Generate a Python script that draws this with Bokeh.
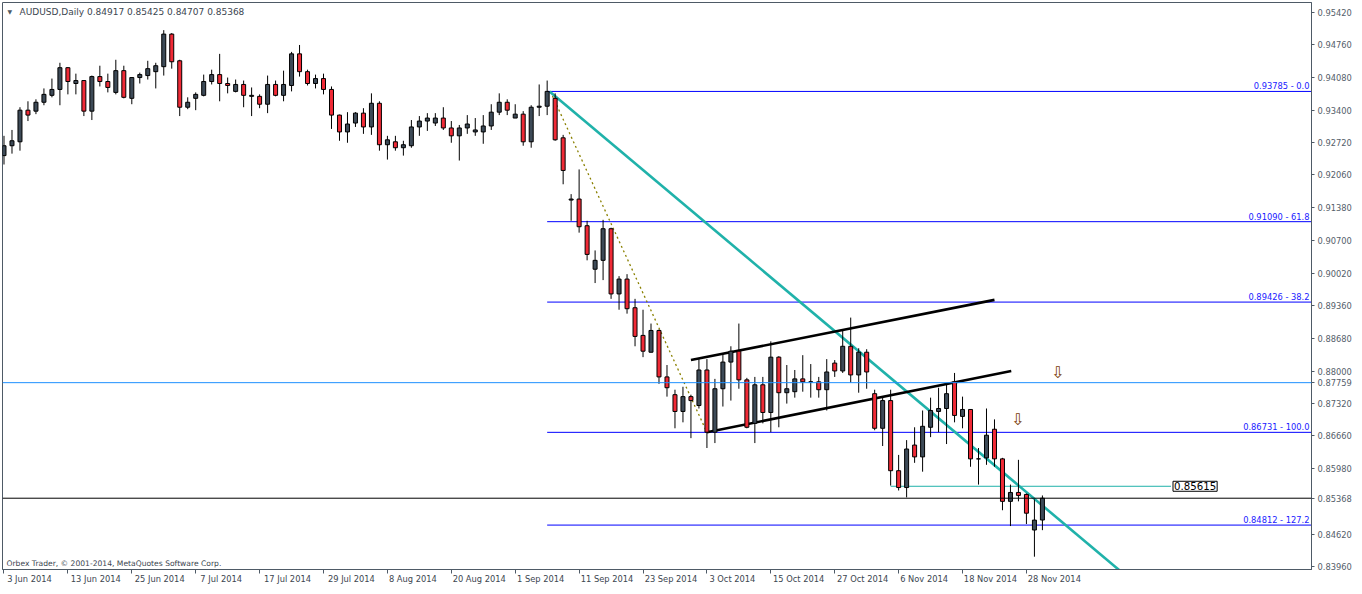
from bokeh.plotting import figure
from bokeh.models import (Range1d, LinearAxis, FixedTicker, NumeralTickFormatter,
                          Label, LabelSet, ColumnDataSource, Span)
from bokeh.core.properties import value
from bokeh.embed import file_html
from bokeh.resources import INLINE

symbol = "AUDUSD"
timeframe = "Daily"

opens = [0.92457, 0.92661, 0.92743, 0.93397, 0.93377, 0.93561, 0.93704, 0.93826, 0.94276, 0.93949,
         0.94010, 0.93377, 0.94092, 0.93990, 0.93765, 0.94215, 0.93642, 0.94072, 0.94113, 0.94194,
         0.94297, 0.94971, 0.94419, 0.93458, 0.93642, 0.93704, 0.93990, 0.94133, 0.93949, 0.93786,
         0.93929, 0.93683, 0.93683, 0.93520, 0.93929, 0.93704, 0.93908, 0.94562, 0.94194, 0.93949,
         0.94051, 0.93826, 0.93295, 0.92947, 0.93131, 0.93336, 0.93050, 0.93540, 0.92682, 0.92743,
         0.92620, 0.92661, 0.93050, 0.93172, 0.93131, 0.93234, 0.93029, 0.92866, 0.93029, 0.92947,
         0.92947, 0.93070, 0.93356, 0.93561, 0.93234, 0.93315, 0.92743, 0.93458, 0.93479, 0.93642,
         0.92825, 0.91537, 0.91558, 0.91006, 0.90106, 0.90290, 0.90944, 0.89595, 0.89902, 0.89309,
         0.88737, 0.88389, 0.88839, 0.87878, 0.87510, 0.87163, 0.87470, 0.87286, 0.88021, 0.86734,
         0.87633, 0.88185, 0.88410, 0.87817, 0.86917, 0.87715, 0.87142, 0.88287, 0.87551, 0.87572,
         0.87837, 0.87776, 0.87776, 0.87613, 0.88164, 0.88001, 0.88512, 0.87919, 0.88389, 0.87531,
         0.86815, 0.87388, 0.85937, 0.85589, 0.86468, 0.86223, 0.86836, 0.87163, 0.87224, 0.87776,
         0.87061, 0.87204, 0.86182, 0.86203, 0.86795, 0.86182, 0.85303, 0.85487, 0.85446, 0.84710,
         0.84917]
highs = [0.92866, 0.92988, 0.93458, 0.93581, 0.93622, 0.93847, 0.94051, 0.94378, 0.94290, 0.94153,
         0.94020, 0.94113, 0.94317, 0.94153, 0.94440, 0.94317, 0.94072, 0.94174, 0.94419, 0.94378,
         0.95053, 0.94992, 0.94440, 0.93663, 0.93765, 0.94133, 0.94235, 0.94562, 0.94072, 0.94031,
         0.94010, 0.93867, 0.93724, 0.94113, 0.94010, 0.94215, 0.94603, 0.94746, 0.94235, 0.94133,
         0.94153, 0.93888, 0.93305, 0.93356, 0.93356, 0.93438, 0.93745, 0.93581, 0.92866, 0.92866,
         0.92764, 0.93193, 0.93275, 0.93336, 0.93336, 0.93458, 0.93172, 0.93091, 0.93295, 0.93234,
         0.93295, 0.93520, 0.93745, 0.93622, 0.93520, 0.93377, 0.93499, 0.93929, 0.94010, 0.93745,
         0.92886, 0.91660, 0.92171, 0.91108, 0.90495, 0.91128, 0.90965, 0.89963, 0.90004, 0.89493,
         0.89268, 0.88982, 0.88860, 0.88124, 0.87613, 0.87674, 0.87510, 0.88246, 0.88246, 0.87837,
         0.88348, 0.88512, 0.88982, 0.87858, 0.87878, 0.87878, 0.88614, 0.88307, 0.88124, 0.88021,
         0.88328, 0.88144, 0.87878, 0.88246, 0.88226, 0.88860, 0.89105, 0.88471, 0.88451, 0.87613,
         0.87449, 0.87613, 0.86264, 0.86570, 0.86836, 0.87183, 0.87449, 0.87654, 0.87735, 0.87960,
         0.87470, 0.87210, 0.86407, 0.87224, 0.86999, 0.86203, 0.85650, 0.86162, 0.85466, 0.85344,
         0.85425]
lows = [0.92273, 0.92498, 0.92559, 0.93172, 0.93315, 0.93499, 0.93663, 0.93499, 0.93724, 0.93724,
        0.93275, 0.93193, 0.93888, 0.93765, 0.93724, 0.93642, 0.93520, 0.93949, 0.94031, 0.93847,
        0.94113, 0.94256, 0.93275, 0.93418, 0.93397, 0.93683, 0.93929, 0.93581, 0.93745, 0.93765,
        0.93458, 0.93275, 0.93438, 0.93336, 0.93683, 0.93581, 0.93786, 0.94092, 0.93908, 0.93847,
        0.93724, 0.93009, 0.92764, 0.92723, 0.93050, 0.92907, 0.92886, 0.92559, 0.92375, 0.92559,
        0.92457, 0.92620, 0.92866, 0.92968, 0.93070, 0.92988, 0.92723, 0.92355, 0.92907, 0.92866,
        0.92702, 0.92988, 0.93295, 0.93295, 0.93234, 0.92661, 0.92620, 0.93275, 0.93295, 0.92764,
        0.91864, 0.91108, 0.90863, 0.90290, 0.89820, 0.89881, 0.89493, 0.89268, 0.89187, 0.88512,
        0.88287, 0.88380, 0.87735, 0.87470, 0.86815, 0.86938, 0.86611, 0.87224, 0.86407, 0.86509,
        0.87265, 0.87388, 0.87633, 0.86815, 0.86509, 0.86917, 0.86734, 0.86836, 0.87326, 0.87449,
        0.87572, 0.87449, 0.87449, 0.87183, 0.87878, 0.87960, 0.87756, 0.87551, 0.87633, 0.86774,
        0.86448, 0.85630, 0.85528, 0.85385, 0.86100, 0.85917, 0.86632, 0.86734, 0.86489, 0.86938,
        0.86815, 0.86019, 0.85650, 0.86059, 0.86019, 0.85119, 0.84792, 0.85303, 0.84834, 0.84158,
        0.84707]
closes = [0.92661, 0.92764, 0.93397, 0.93295, 0.93561, 0.93724, 0.93826, 0.94276, 0.93990, 0.94010,
          0.93377, 0.94092, 0.93990, 0.93867, 0.94215, 0.93663, 0.94072, 0.94133, 0.94256, 0.94317,
          0.94971, 0.94399, 0.93458, 0.93561, 0.93724, 0.93990, 0.94133, 0.93949, 0.93908, 0.93929,
          0.93704, 0.93704, 0.93520, 0.93929, 0.93704, 0.93929, 0.94562, 0.94194, 0.93949, 0.94051,
          0.93826, 0.93295, 0.92947, 0.93111, 0.93336, 0.93050, 0.93540, 0.92682, 0.92784, 0.92620,
          0.92682, 0.93050, 0.93172, 0.93234, 0.93234, 0.93029, 0.92866, 0.93029, 0.93111, 0.92988,
          0.93070, 0.93356, 0.93561, 0.93397, 0.93315, 0.92743, 0.93458, 0.93479, 0.93786, 0.92784,
          0.92150, 0.91558, 0.90985, 0.90413, 0.90290, 0.90944, 0.89595, 0.89902, 0.89289, 0.88716,
          0.88410, 0.88839, 0.87878, 0.87654, 0.87163, 0.87470, 0.87388, 0.88021, 0.86734, 0.87633,
          0.88185, 0.88410, 0.87817, 0.86836, 0.87715, 0.87142, 0.88287, 0.87551, 0.87633, 0.87837,
          0.87776, 0.87776, 0.87613, 0.87980, 0.88001, 0.88512, 0.87919, 0.88389, 0.87980, 0.86815,
          0.87388, 0.85937, 0.85589, 0.86386, 0.86223, 0.86856, 0.87183, 0.87224, 0.87531, 0.87081,
          0.87204, 0.86182, 0.86182, 0.86672, 0.86182, 0.85303, 0.85487, 0.85426, 0.85058, 0.84915,
          0.85368]

# bottom axis: bar index of each date label (trading days) and the labels
date_tick_bars = [0, 8, 16, 24, 32, 40, 48, 56, 64, 72, 80, 88, 96, 104, 112, 120, 128]
date_tick_labels = ["3 Jun 2014", "13 Jun 2014", "25 Jun 2014", "7 Jul 2014", "17 Jul 2014",
                    "29 Jul 2014", "8 Aug 2014", "20 Aug 2014", "1 Sep 2014", "11 Sep 2014",
                    "23 Sep 2014", "3 Oct 2014", "15 Oct 2014", "27 Oct 2014", "6 Nov 2014",
                    "18 Nov 2014", "28 Nov 2014"]
price_ticks = [0.95420, 0.94760, 0.94080, 0.93400, 0.92720, 0.92060, 0.91380, 0.90700, 0.90020,
               0.89360, 0.88680, 0.88000, 0.87320, 0.86660, 0.85980, 0.84620, 0.83960]

# drawn objects
fib_anchor_bar = 68
fib_prices = [0.93785, 0.91090, 0.89426, 0.86731, 0.84812]
fib_names = ["0.0", "61.8", "38.2", "100.0", "127.2"]
resistance_level = 0.87759
box_level = 0.85615
box_level_bars = [111, 146.1]
trend_bars = [68.3, 141.0]
trend_prices = [0.93785, 0.83688]
fib_base_bars = [68.4, 88.0]
fib_base_prices = [0.93785, 0.86731]
channel_upper_bars = [86.0, 124.0]
channel_upper_prices = [0.88226, 0.89472]
channel_lower_bars = [88.0, 126.1]
channel_lower_prices = [0.86734, 0.88001]
arrow_bars = [131.9, 126.9]
arrow_prices = [0.87960, 0.86999]

# ---------------------------------------------------------------
W, H = 1354, 586
FRAME_W = 1311
PX_PER_BAR = 8.0
FONT = "DejaVu Sans"
FRAME_COL = "#4e5a66"
TICK_TEXT = "#55606b"
BULL = "#3d4a57"
BEAR = "#f02a36"

x_start = -0.1875
x_end = x_start + FRAME_W / PX_PER_BAR
y_top = 0.95625
p = figure(width=W, height=H, output_backend="svg", toolbar_location=None,
           x_range=Range1d(x_start, x_end), y_range=Range1d(0.83893, y_top),
           x_axis_location=None, y_axis_location="right",
           min_border_left=2, min_border_top=2, min_border_bottom=14, min_border_right=W - 2 - FRAME_W)
p.xgrid.visible = False
p.ygrid.visible = False
p.outline_line_color = FRAME_COL
p.outline_line_width = 1
p.background_fill_color = "white"
p.border_fill_color = "white"

# right price axis (the two marked levels are shown as extra ticks)
ya = p.yaxis[0]
ya.ticker = FixedTicker(ticks=sorted(price_ticks + [resistance_level, closes[-1]]))
ya.formatter = NumeralTickFormatter(format="0.00000")
ya.axis_line_color = FRAME_COL
ya.major_tick_line_color = FRAME_COL
ya.major_tick_out = 3
ya.major_tick_in = 0
ya.minor_tick_line_color = None
ya.major_label_standoff = 3
ya.major_label_text_font = FONT
ya.major_label_text_font_size = "8.3px"
ya.major_label_text_color = TICK_TEXT

# bottom axis: tick marks at the dates ...
xa = LinearAxis(ticker=FixedTicker(ticks=date_tick_bars),
                major_label_overrides={b: "" for b in date_tick_bars})
xa.axis_line_color = FRAME_COL
xa.major_tick_line_color = FRAME_COL
xa.major_tick_out = 4
xa.major_tick_in = 0
xa.minor_tick_line_color = None
xa.major_label_standoff = 0
xa.major_label_text_font_size = "1px"
p.add_layout(xa, "below")

# ... and the date texts, set so that each starts at its tick
label_ticks = [b + (len(t) * 4.9 / 2 + 1) / PX_PER_BAR for b, t in zip(date_tick_bars, date_tick_labels)]
xl = LinearAxis(ticker=FixedTicker(ticks=label_ticks),
                major_label_overrides={lt: t for lt, t in zip(label_ticks, date_tick_labels)})
xl.axis_line_color = None
xl.major_tick_line_color = None
xl.major_tick_out = 0
xl.major_tick_in = 0
xl.minor_tick_line_color = None
xl.major_label_standoff = 0
xl.major_label_text_font = FONT
xl.major_label_text_font_size = "8.3px"
xl.major_label_text_color = "#3c4650"
p.add_layout(xl, "below")

# horizontal levels
p.add_layout(Span(location=resistance_level, dimension="width", line_color="#1e90ff", line_width=1))
p.add_layout(Span(location=closes[-1], dimension="width", line_color="black", line_width=1))

# fibonacci levels
n = len(fib_prices)
p.segment(x0=[fib_anchor_bar] * n, x1=[x_end] * n, y0=fib_prices, y1=fib_prices,
          line_color="#0000ff", line_width=1)
fib_src = ColumnDataSource(dict(y=fib_prices,
                                text=[f"{v:.5f} - {nm}" for v, nm in zip(fib_prices, fib_names)]))
p.add_layout(LabelSet(x=x_end, y="y", text="text", source=fib_src, x_offset=-2,
                      text_align="right", text_baseline="bottom", y_offset=0,
                      text_font=value(FONT), text_font_size="8.3px", text_color="#1a1aff"))

# fib base dotted line
p.line(fib_base_bars, fib_base_prices, line_color="#8a8000", line_width=1.3, line_dash="2 3")

# trend line
p.line(trend_bars, trend_prices, line_color="#20b2aa", line_width=2.6)

# channel
p.line(channel_upper_bars, channel_upper_prices, line_color="black", line_width=2.6)
p.line(channel_lower_bars, channel_lower_prices, line_color="black", line_width=2.6)

# teal level with label box
p.line(box_level_bars, [box_level, box_level], line_color="#20b2aa", line_width=1)
p.add_layout(Label(x=box_level_bars[1], y=box_level, text=f"{box_level:.5f}", x_offset=2,
                   text_baseline="middle", text_align="left", text_font=FONT,
                   text_font_size="10.2px", text_color="black", background_fill_color="white",
                   border_line_color="black", border_line_width=1, padding=1))

# candles
idx = list(range(len(opens)))
up = [c >= o for o, c in zip(opens, closes)]
src = ColumnDataSource(dict(
    x=idx, high=highs, low=lows,
    top=[max(o, c) for o, c in zip(opens, closes)],
    bottom=[min(o, c) for o, c in zip(opens, closes)],
    color=[BULL if u else BEAR for u in up]))
p.segment(x0="x", y0="high", x1="x", y1="low", source=src, line_color="black", line_width=1)
p.vbar(x="x", width=0.5, top="top", bottom="bottom", fill_color="color",
       line_color="black", line_width=1, source=src)

# sell arrows
p.text(x=arrow_bars, y=arrow_prices, text=["\u21e9"] * len(arrow_bars),
       text_font=value(FONT), text_font_size="16px", text_align="center",
       text_baseline="middle", text_color="#7a3c08")

# header and footer texts
p.add_layout(Label(x=x_start, y=y_top, x_offset=5, y_offset=-9, text="\u25bc",
                   text_baseline="middle", text_font=FONT, text_font_size="6px", text_color="#505a64"))
header = f"{symbol},{timeframe}  {opens[-1]:.5f} {highs[-1]:.5f} {lows[-1]:.5f} {closes[-1]:.5f}"
p.add_layout(Label(x=x_start, y=y_top, x_offset=17, y_offset=-9, text=header,
                   text_baseline="middle", text_font=FONT, text_font_size="9px", text_color="#3c4650"))
p.add_layout(Label(x=4, y=6, x_units="screen", y_units="screen",
                   text="Orbex Trader, \u00a9 2001-2014, MetaQuotes Software Corp.",
                   text_baseline="middle", text_font=FONT, text_font_size="7.6px", text_color="#3c4650"))

open("out.html", "w").write(file_html(p, INLINE))
